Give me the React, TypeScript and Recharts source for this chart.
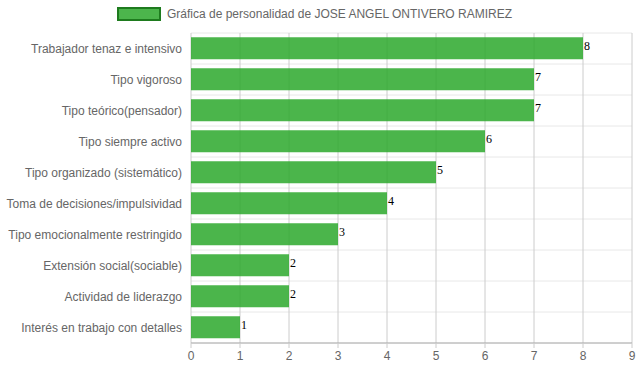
import { BarChart, Bar, XAxis, YAxis, CartesianGrid, LabelList } from 'recharts';

const categories = [
  'Trabajador tenaz e intensivo',
  'Tipo vigoroso',
  'Tipo teórico(pensador)',
  'Tipo siempre activo',
  'Tipo organizado (sistemático)',
  'Toma de decisiones/impulsividad',
  'Tipo emocionalmente restringido',
  'Extensión social(sociable)',
  'Actividad de liderazgo',
  'Interés en trabajo con detalles',
];
const scores = [8, 7, 7, 6, 5, 4, 3, 2, 2, 1];
const xTicks = [0, 1, 2, 3, 4, 5, 6, 7, 8, 9];
const seriesName = 'Gráfica de personalidad de JOSE ANGEL ONTIVERO RAMIREZ';

const data = categories.map((name, i) => ({ name, value: scores[i] }));

const W = 639;
const H = 372;
const TOP = 33;
const BOTTOM = 29;
const FONT = '"Liberation Sans", Arial, sans-serif';

function CategoryTick(props: any) {
  const { x, y, payload } = props;
  return (
    <text x={x - 1} y={y} dy='0.35em' textAnchor='end' fill='#666' fontSize={12} fontFamily={FONT}>
      {payload.value}
    </text>
  );
}

// value drawn just past the bar end, a bit above centre like the original
function ValueLabel(props: any) {
  const { x, y, width, height, value } = props;
  return (
    <text
      x={x + width + 1}
      y={y + height / 2 - 3}
      dy='0.35em'
      fill='#000'
      fontSize={12}
      fontFamily='"Liberation Serif", "Times New Roman", serif'
    >
      {value}
    </text>
  );
}

export default function App() {
  const plotH = H - TOP - BOTTOM;
  const band = plotH / categories.length;

  return (
    <div style={{ position: 'absolute', left: 0, top: 0, width: W, height: H, background: '#fff' }}>
      <div
        style={{
          position: 'absolute',
          left: 117,
          top: 7,
          display: 'flex',
          alignItems: 'center',
          fontFamily: FONT,
          fontSize: 12,
          color: '#666',
        }}
      >
        <span
          style={{
            display: 'inline-block',
            width: 40,
            height: 10,
            background: '#4cb54c',
            border: '2px solid #1e7b1e',
            marginRight: 6,
          }}
        />
        <span>{seriesName}</span>
      </div>
      <BarChart
        width={W}
        height={H}
        data={data}
        layout='vertical'
        margin={{ top: TOP, right: 7, bottom: 0, left: 0 }}
        barCategoryGap='14%'
      >
        <CartesianGrid
          vertical={false}
          stroke='#e8e8e8'
          horizontalCoordinatesGenerator={() =>
            Array.from({ length: categories.length + 1 }, (_, i) => TOP + i * band)
          }
        />
        <CartesianGrid horizontal={false} stroke='#cccccc' />
        <XAxis
          type='number'
          domain={[0, 9]}
          ticks={xTicks}
          height={BOTTOM}
          tickSize={5}
          tickMargin={3}
          stroke='#aaa'
          tickLine={{ stroke: '#ccc' }}
          tick={{ fill: '#666', fontSize: 12, fontFamily: FONT }}
        />
        <YAxis
          type='category'
          dataKey='name'
          width={191}
          tickLine={false}
          axisLine={false}
          interval={0}
          tick={<CategoryTick />}
        />
        <Bar dataKey='value' fill='rgb(44,168,44)' fillOpacity={0.85} isAnimationActive={false}>
          <LabelList dataKey='value' content={<ValueLabel />} />
        </Bar>
      </BarChart>
    </div>
  );
}
